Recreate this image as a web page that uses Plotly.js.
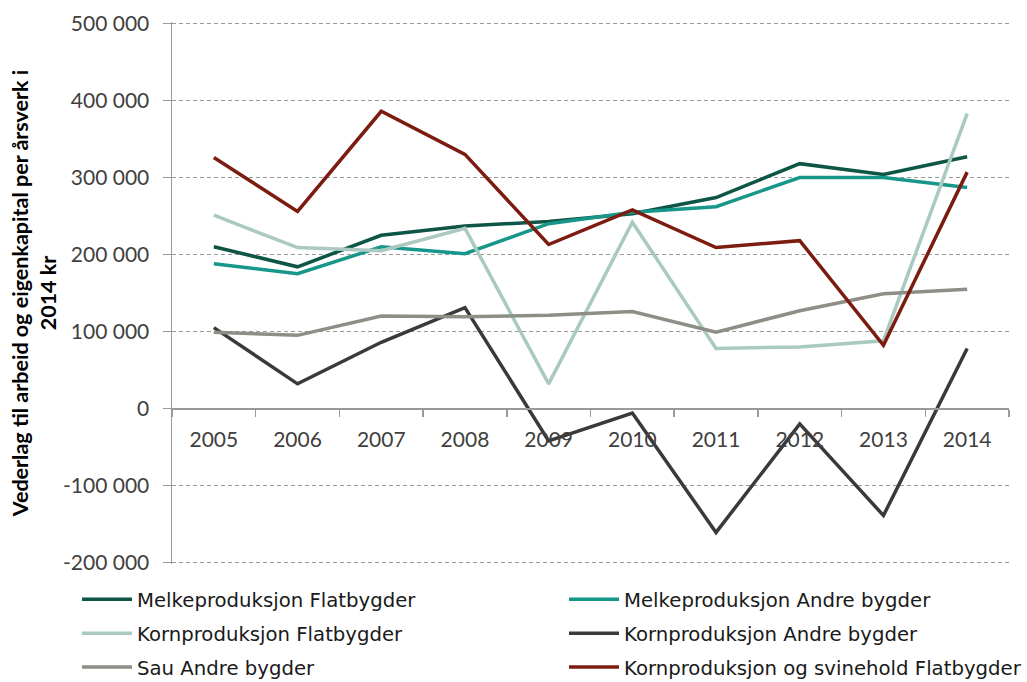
<!DOCTYPE html>
<html>
<head>
<meta charset="utf-8">
<script src="https://cdn.plot.ly/plotly-3.0.1.min.js"></script>
<style>html,body{margin:0;padding:0;background:#fff;}#chart{width:1027px;height:682px;}</style>
</head>
<body>
<div id="chart"></div>
<script>
const years = ['2005','2006','2007','2008','2009','2010','2011','2012','2013','2014'];
const melkeFlat = [210000,184000,225000,237000,243000,253000,274000,318000,304000,327000];
const melkeAndre = [188000,175000,210000,201000,240000,255000,262000,300000,300000,287000];
const kornFlat = [251000,209000,205000,234000,32000,242000,78000,80000,88000,383000];
const kornAndre = [105000,32000,86000,131000,-42000,-6000,-161000,-20000,-139000,78000];
const sauAndre = [99000,95000,120000,119000,121000,126000,99000,127000,149000,155000];
const kornSvin = [326000,256000,386000,330000,213000,258000,209000,218000,82000,307000];
const seriesNames = ['Melkeproduksjon Flatbygder','Melkeproduksjon Andre bygder','Kornproduksjon Flatbygder','Kornproduksjon Andre bygder','Sau Andre bygder','Kornproduksjon og svinehold Flatbygder'];
const seriesColors = ['#0d5545','#17978a','#a9c9c1','#3a3a3a','#8d8e86','#7c1c10'];
const legendRows = ['legend','legend','legend2','legend2','legend3','legend3'];
const yTickVals = [-200000,-100000,0,100000,200000,300000,400000,500000];
const yTickText = ['-200 000','-100 000','0','100 000','200 000','300 000','400 000','500 000'];
const yTitle = 'Vederlag til arbeid og eigenkapital per årsverk i<br>2014 kr';

const allSeries = [melkeFlat, melkeAndre, kornFlat, kornAndre, sauAndre, kornSvin];
const traces = allSeries.map((vals, i) => ({
  type: 'scatter', mode: 'lines', x: years, y: vals, name: seriesNames[i],
  legend: legendRows[i],
  line: {color: seriesColors[i], width: 3.5}
}));

const font = 'Lato, "Open Sans", sans-serif';
const legFont = {family: '"DejaVu Sans", sans-serif', size: 19.7, color: '#1a1a1a'};
const mT = 21.5, mB = 117.5;
const plotH = 682 - mT - mB;
const plotBottom = 682 - mB;
const legX = (77 - 172) / 837;
function leg(yc) {
  return {
    orientation: 'h', x: legX, xanchor: 'left', y: -(yc - plotBottom) / plotH, yanchor: 'middle',
    entrywidth: 422, entrywidthmode: 'pixels', itemwidth: 50,
    font: legFont, bgcolor: 'rgba(0,0,0,0)'
  };
}
const layout = {
  width: 1027, height: 682,
  margin: {l: 172, r: 18, t: mT, b: mB, autoexpand: false},
  paper_bgcolor: '#fff', plot_bgcolor: '#fff',
  showlegend: true,
  font: {family: font, color: '#404040', size: 21},
  xaxis: {
    type: 'category', anchor: 'free', position: 202000 / 704000,
    showline: true, linecolor: '#9a9a9a', linewidth: 1.5,
    ticks: 'outside', tickson: 'boundaries', ticklen: 7, tickcolor: '#9a9a9a', tickwidth: 1.5,
    showgrid: false, zeroline: false,
    tickfont: {family: font, size: 21, color: '#404040'},
    ticklabelstandoff: 12,
    range: [-0.5, 9.5]
  },
  yaxis: {
    range: [-202000, 502000],
    tickvals: yTickVals, ticktext: yTickText,
    showline: true, linecolor: '#9a9a9a', linewidth: 1.5,
    ticks: 'outside', ticklen: 8, tickcolor: '#9a9a9a', tickwidth: 1.5,
    showgrid: true, gridcolor: '#9a9a9a', griddash: '4px,3px', gridwidth: 1.6,
    zeroline: false,
    tickfont: {family: font, size: 21, color: '#404040'},
    ticklabelstandoff: 9,
    title: {text: yTitle, font: {family: font, size: 21.5, color: '#000', weight: 'bold'}, standoff: 0}
  },
  legend: leg(600),
  legend2: leg(634),
  legend3: leg(668)
};
Plotly.newPlot('chart', traces, layout, {displayModeBar: false, staticPlot: true});
</script>
</body>
</html>
